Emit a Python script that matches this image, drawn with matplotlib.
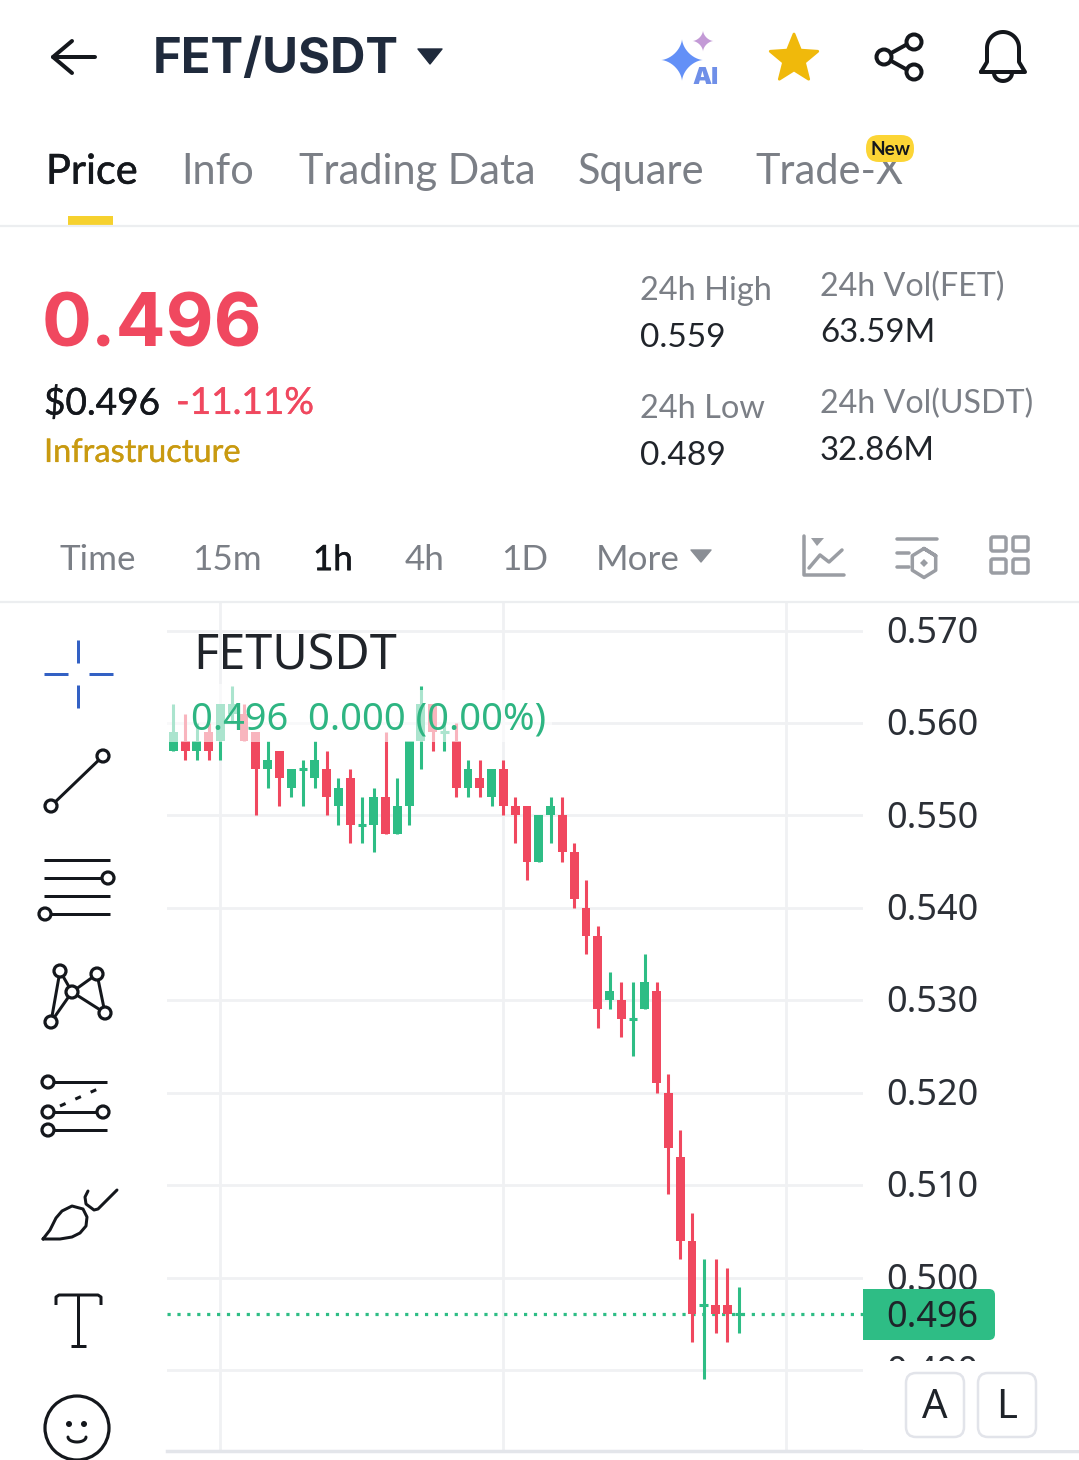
import numpy as np
from matplotlib import pyplot as plt
from matplotlib import patches as mp
from matplotlib import patheffects as pe

# candles, values in thousandths of USDT
opens = [557, 558, 557, 559, 558, 561, 561, 559, 555, 557, 553, 555, 554, 555, 551, 554, 549,
         549, 552, 548, 551, 558, 562, 559, 558, 553, 554, 552, 555, 551, 551, 545, 550, 550,
         546, 540, 537, 530, 530, 528, 529, 531, 520, 513, 504, 497, 497, 497, 496]
closes = [559, 557, 558, 557, 562, 562, 558, 555, 556, 554, 555, 555, 556, 552, 553, 549, 549,
          552, 548, 551, 558, 562, 559, 559, 553, 555, 553, 555, 551, 550, 545, 550, 551, 546,
          541, 537, 529, 531, 528, 528, 532, 521, 514, 504, 496, 497, 496, 496, 496]
highs = [562, 561, 560, 560, 562, 564, 562, 559, 558, 557, 555, 556, 558, 557, 554, 555, 552,
         553, 559, 554, 558, 564, 562, 560, 560, 556, 556, 555, 556, 552, 551, 550, 552, 552,
         547, 543, 538, 533, 532, 532, 535, 532, 522, 516, 507, 502, 502, 501, 499]
lows = [557, 556, 556, 556, 556, 560, 558, 550, 553, 551, 552, 551, 553, 550, 549, 547, 547,
        546, 548, 548, 549, 555, 557, 557, 552, 552, 552, 551, 550, 547, 543, 545, 547, 545,
        540, 535, 527, 529, 526, 524, 529, 520, 509, 502, 493, 489, 494, 493, 494]
price_ticks = [0.570, 0.560, 0.550, 0.540, 0.530, 0.520, 0.510, 0.500, 0.490]
last_price = 0.496
time_grid = [4, 28, 52]

tabs = ['Price', 'Info', 'Trading Data', 'Square', 'Trade-X']
periods = ['Time', '15m', '1h', '4h', '1D', 'More']

GREEN = '#2ebd85'
RED = '#f0485f'
GRID = '#f0f1f3'
NAVY = '#1f2a3c'
GREY = '#7b7f86'
W, H = 1079, 1460
UI_FONT = 'Lato'

fig = plt.figure(figsize=(W / 100, H / 100), dpi=100)

# chart area, scaled from the gridlines in the picture
left, right, top, bottom = 167, 863, 603, 1451
ax = fig.add_axes([left / W, 1 - bottom / H, (right - left) / W, (bottom - top) / H])
ax.set_xlim((left - 173.3) / 11.79, (right - 173.3) / 11.79)
ax.set_ylim(0.570 - (bottom - 630.5) / 9243, 0.570 + (630.5 - top) / 9243)
for s in ax.spines.values():
    s.set_visible(False)
ax.set_xticks(time_grid)
ax.set_yticks(price_ticks)
ax.tick_params(length=0, labelleft=False, labelbottom=False)
ax.grid(True, color=GRID, lw=2)
ax.set_axisbelow(True)

for i in range(len(opens)):
    c = GREEN if closes[i] >= opens[i] else RED
    ax.vlines(i, lows[i] / 1000, highs[i] / 1000, color=c, lw=2.2, zorder=3)
    if opens[i] == closes[i]:
        ax.hlines(opens[i] / 1000, i - 0.37, i + 0.37, color=c, lw=2.2, zorder=3)
    else:
        lo = min(opens[i], closes[i]) / 1000
        ax.bar(i, abs(opens[i] - closes[i]) / 1000, bottom=lo, width=0.75, color=c, zorder=4)
ax.axhline(last_price, color=GREEN, lw=2.3, ls=(0, (1, 2.1)), zorder=2)

# overlay in pixel coordinates for the app chrome
ui = fig.add_axes([0, 0, 1, 1])
ui.set_xlim(0, W)
ui.set_ylim(H, 0)
ui.axis('off')
ui.patch.set_alpha(0)


def txt(x, y, s, size, color=GREY, weight='normal', ha='left', family=UI_FONT, thick=0, **kw):
    t = ui.text(x, y + size * 0.09, s, fontsize=size * 0.72, color=color, fontweight=weight, ha=ha,
                va='center', family=family, **kw)
    if thick:
        t.set_path_effects([pe.withStroke(linewidth=thick, foreground=color)])
    return t


def line(xs, ys, color='#14171c', lw=3.0, cap='round', **kw):
    ui.plot(xs, ys, color=color, lw=lw * 0.72, solid_capstyle=cap, solid_joinstyle='round', **kw)


def ring(x, y, r, color='#14171c', lw=3.2, fc='white'):
    ui.add_patch(mp.Circle((x, y), r, fc=fc, ec=color, lw=lw * 0.72, zorder=5))


def sparkle(x, y, r, color):
    a = np.linspace(0, 2 * np.pi, 80)
    c, s = np.cos(a), np.sin(a)
    ui.add_patch(mp.Polygon(np.c_[x + r * np.sign(c) * np.abs(c) ** 3.2, y + r * np.sign(s) * np.abs(s) ** 3.2],
                            fc=color, ec='none'))


# legend fades the candles under it
ui.add_patch(mp.Rectangle((167, 684), 248, 58, fc='white', alpha=0.6, ec='none'))
ui.add_patch(mp.Rectangle((415, 690), 137, 52, fc='white', alpha=0.6, ec='none'))
txt(193, 652, 'FETUSDT', 48.5, color='#20242a', family='Noto Sans')
txt(191, 716, '0.496  0.000 (0.00%)', 38, color='#2eb582', family='Noto Sans')

# header
line([53, 95], [57, 57], lw=4)
line([72, 53, 72], [41, 57, 73], lw=4)
txt(153, 56, 'FET/USDT', 49, color=NAVY, weight='bold', family='Inter')
ui.add_patch(mp.Polygon([[418, 49], [442, 49], [430, 64]], fc=NAVY, ec=NAVY, lw=1, joinstyle='round'))

# ai sparkle
sparkle(682, 60, 21, '#6390f7')
sparkle(703, 41, 10.5, '#c39ad6')
txt(692, 76, 'AI', 24, color='#6f8fe8', weight='black', family='Inter')

# star
ang = np.deg2rad(np.arange(-90, 270, 36))
rad = np.where(np.arange(10) % 2 == 0, 25, 11)
ui.add_patch(mp.Polygon(np.c_[794 + rad * np.cos(ang), 59 + rad * np.sin(ang)], fc='#f0b90b',
                        ec='#f0b90b', lw=2, joinstyle='round'))

# share
line([884, 913], [57, 41], lw=4)
line([884, 913], [57, 73], lw=4)
ring(884, 57, 7.5, lw=4)
ring(914, 42, 7.5, lw=4)
ring(914, 72, 7.5, lw=4)

# bell
t = np.linspace(np.pi, 2 * np.pi, 40)
bx = np.r_[981, 987, 1003 + 16 * np.cos(t), 1019, 1025, 981]
by = np.r_[72, 62, 48 + 16 * np.sin(t), 62, 72, 72]
line(bx, by, lw=4)
t2 = np.linspace(np.pi, 0, 20)
line(1003 + 9 * np.cos(t2), 73 + 8 * np.sin(t2), lw=4)

# tabs
tab_x = [46, 181, 299, 578, 755]
for x, s in zip(tab_x, tabs):
    if s == 'Price':
        txt(x, 168, s, 41.5, color='#14171c', thick=0.35)
    else:
        txt(x, 168, s, 41.5)
ui.add_patch(mp.Rectangle((68, 216), 45, 9, fc='#f6d12e', ec='none'))
ui.add_patch(mp.FancyBboxPatch((866, 135), 48, 27, boxstyle='round,pad=0,rounding_size=13', fc='#fcd535',
                               ec='none', zorder=4))
txt(890, 148, 'New', 19, color='#14171c', weight='bold', ha='center', zorder=5)
ui.plot([0, W], [226, 226], color='#eceef0', lw=1.6)

# price block
txt(42, 320, '0.496', 74, color=RED, weight='bold', family='Inter')
txt(44, 400, '$0.496', 37, color='#14171c', thick=0.3)
txt(176, 400, '-11.11%', 37, color=RED, thick=0.3)
txt(44, 450, 'Infrastructure', 32.5, color='#c99a10', thick=0.25)

txt(640, 288, '24h High', 32.5)
txt(640, 335, '0.559', 33.5, color='#20242a')
txt(640, 406, '24h Low', 32.5)
txt(640, 453, '0.489', 33.5, color='#20242a')
txt(820, 284, '24h Vol(FET)', 32.3)
txt(820, 330, '63.59M', 33, color='#20242a')
txt(820, 401, '24h Vol(USDT)', 32.3)
txt(820, 448, '32.86M', 33, color='#20242a')

# period row
per_x = [60, 192, 313, 405, 501, 596]
for x, s in zip(per_x, periods):
    if s == '1h':
        txt(x, 557, s, 35, color='#14171c', thick=0.35)
    else:
        txt(x, 557, s, 35)
ui.add_patch(mp.Polygon([[691, 550], [711, 550], [701, 562]], fc='#8a8e95', ec='#8a8e95', lw=1, joinstyle='round'))
ui.plot([0, W], [602, 602], color='#eceef0', lw=1.6)

G2 = '#9a9da3'
line([804, 804, 844], [536, 575, 575], color=G2, lw=3.5)
ui.add_patch(mp.Polygon([[811, 538], [824, 538], [817, 546]], fc=G2, ec='none'))
line([809, 820, 829, 842], [568, 555, 562, 550], color=G2, lw=3.5)
line([897, 937], [539, 539], color=G2, lw=3.5)
line([897, 909], [553, 553], color=G2, lw=3.5)
line([897, 909], [567, 567], color=G2, lw=3.5)
hex_a = np.deg2rad(np.arange(-90, 360, 60))
line(924 + 13.5 * np.cos(hex_a), 563 + 14.5 * np.sin(hex_a), color=G2, lw=3.5)
ui.add_patch(mp.Polygon([[924, 559], [928, 563], [924, 567], [920, 563]], fc=G2, ec='none'))
for x0 in (991, 1013):
    for y0 in (537, 559):
        ui.add_patch(mp.FancyBboxPatch((x0, y0), 15, 14, boxstyle='round,pad=0,rounding_size=2', fc='none', ec=G2, lw=2.5))

# left toolbar
B = '#3361c4'
line([78, 78], [640, 663], color=B, cap='butt')
line([78, 78], [685, 708], color=B, cap='butt')
line([44, 68], [674, 674], color=B, cap='butt')
line([89, 113], [674, 674], color=B, cap='butt')

line([51, 103], [806, 756], cap='butt')
ring(51, 806, 6)
ring(103, 756, 6)

for y in (860, 878, 896, 914):
    line([44, 110], [y, y], cap='butt')
ring(108, 878, 6)
ring(45, 914, 6)

pts = dict(a=(60, 971), b=(97, 974), c=(72, 992), d=(105, 1013), e=(51, 1022))
for p, q in ['ac', 'ae', 'ce', 'cb', 'cd', 'bd']:
    line([pts[p][0], pts[q][0]], [pts[p][1], pts[q][1]], cap='butt')
for p in pts.values():
    ring(p[0], p[1], 6)

line([48, 107], [1082, 1082], cap='butt')
line([48, 103], [1112, 1112], cap='butt')
line([48, 107], [1130, 1130], cap='butt')
ui.plot([60, 100], [1106, 1088], color='#14171c', lw=2.2, ls=(0, (2, 3.5)))
ring(48, 1082, 6)
ring(48, 1112, 6)
ring(103, 1112, 6)
ring(48, 1130, 6)

# brush
bx = [43, 50, 56, 62, 72, 83, 87, 86, 80, 72, 60, 43]
by = [1239, 1230, 1218, 1211, 1206, 1209, 1217, 1226, 1233, 1237, 1239, 1239]
line(bx, by)
line([88, 85, 86, 94, 98, 117], [1191, 1197, 1204, 1210, 1209, 1190])

# T
line([56, 56, 59, 98, 101, 101], [1305, 1297, 1295, 1295, 1297, 1305], cap='butt')
line([78, 78], [1295, 1346], cap='butt')
line([71, 86], [1346, 1346], cap='butt')

# smiley
ring(77, 1428, 32)
ui.add_patch(mp.Circle((69, 1424), 3, fc='#14171c', ec='none', zorder=6))
ui.add_patch(mp.Circle((84, 1424), 3, fc='#14171c', ec='none', zorder=6))
a = np.linspace(np.pi, 0, 20)
line(77 + 9 * np.cos(a), 1437 + 5 * np.sin(a), lw=3.0, zorder=6)

# price axis labels
for p in price_ticks:
    txt(932, 630.5 + (0.570 - p) * 9243, '%.3f' % p, 36, color='#2b2f36', ha='center', family='Noto Sans', zorder=3)
ui.add_patch(mp.Rectangle((863, 1361), 216, 89, fc='white', ec='none', zorder=4))
ui.add_patch(mp.FancyBboxPatch((863, 1289), 132, 51, boxstyle='round,pad=0,rounding_size=6', fc='#2ebd85', ec='none', zorder=5))
ui.add_patch(mp.Rectangle((863, 1289), 20, 51, fc='#2ebd85', ec='none', zorder=5))
txt(932, 1315, '0.496', 36, color='#1e2329', ha='center', family='Noto Sans', zorder=6)

ui.plot([167, W], [1451, 1451], color='#e3e5ea', lw=2.5)
for x0, s in ((906, 'A'), (978, 'L')):
    ui.add_patch(mp.FancyBboxPatch((x0, 1373), 58, 64, boxstyle='round,pad=0,rounding_size=10', fc='white', ec='#e2e4ea', lw=1.8, zorder=5))
    txt(x0 + 29, 1404, s, 40, color='#1e2329', ha='center', family='Noto Sans', zorder=6)

fig.savefig('out.png', dpi=100)
